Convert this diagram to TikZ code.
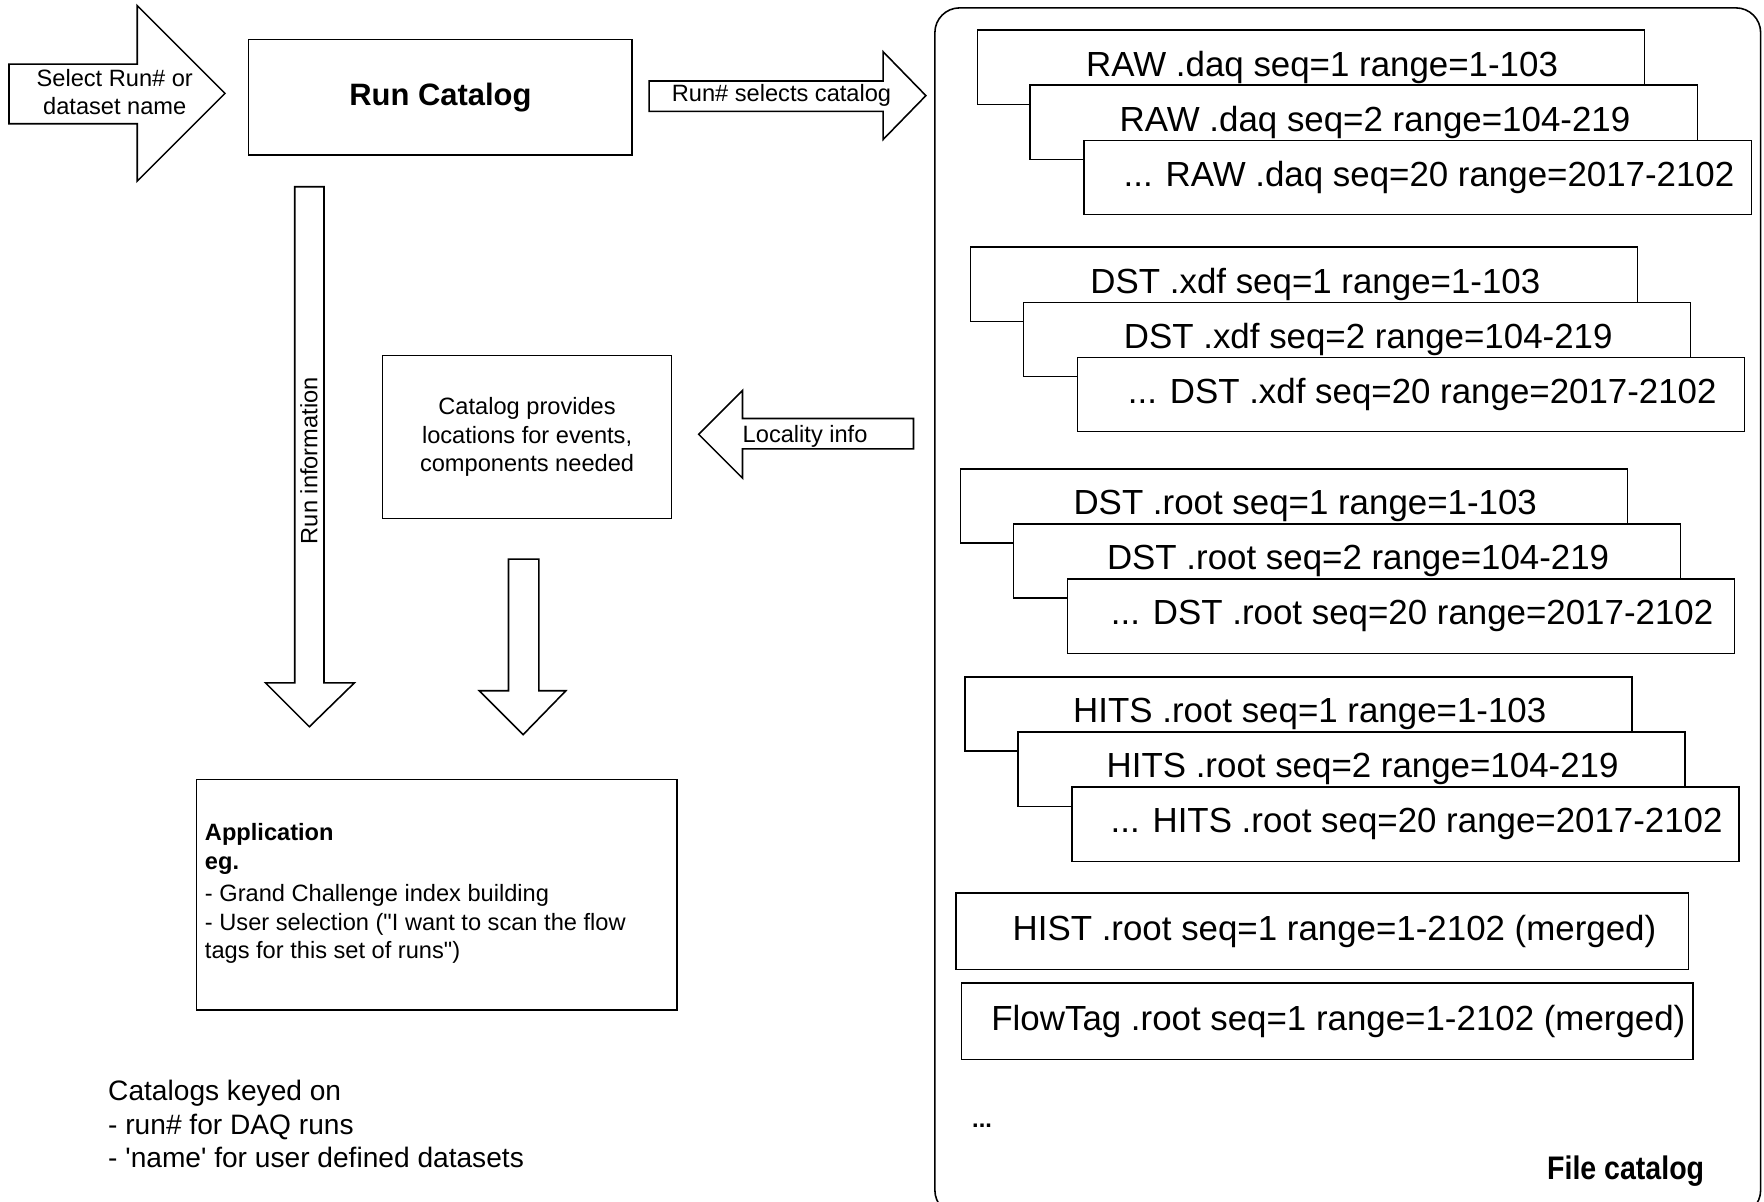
\documentclass[tikz,border=0pt]{standalone}
\usepackage{fontspec}
\setmainfont{Liberation Sans}[Ligatures=TeXOff]
\usepackage{graphicx}
\newcommand\sh{\hspace*{20pt}}
\newcommand\filestack[6]{%
  \node[fbox] (#1a) at (#2,#3) {\sh #4};
  \node[fbox] (#1b) at ({#2+47},{#3+49}) {\sh #5};
  \node[fbox] (#1c) at ({#2+95},{#3+98}) {\sh #6};
}
\begin{document}
\begin{tikzpicture}[x=1pt,y=-1pt,
  shp/.style={draw=black, line width=1.4pt, fill=white, line join=miter},
  fbox/.style={shp, rectangle, anchor=north west, minimum width=593pt, minimum height=66pt, inner sep=0pt, font=\fontsize{31}{37}\selectfont},
  mbox/.style={shp, rectangle, anchor=north west, minimum height=68pt, inner sep=0pt, font=\fontsize{31}{37}\selectfont},
  small/.style={font=\fontsize{21}{25.5}\selectfont, inner sep=0pt},
  note/.style={font=\fontsize{25}{30}\selectfont, inner sep=0pt, anchor=base west}]
\clip (0,0) rectangle (1568,1068);
\useasboundingbox (0,0) rectangle (1568,1068);
\fill[white] (0,0) rectangle (1568,1068);

% left input arrow
\draw[shp] (8,57) -- (122,57) -- (122,5) -- (200,83) -- (122,161) -- (122,110) -- (8,110) -- cycle;
\node[small, anchor=base] (sel1) at (102,77) {Select Run\# or};
\node[small, anchor=base] (sel2) at (102,102) {dataset name};

% run catalog
\node[shp, rectangle, minimum width=341pt, minimum height=103pt, inner sep=0pt,
      font=\fontsize{27.5}{33}\selectfont\bfseries] (runcat) at (391.5,86.5) {Run Catalog};

% arrow to file catalog
\draw[shp] (577,72) -- (785,72) -- (785,46) -- (823,85) -- (785,124) -- (785,99) -- (577,99) -- cycle;
\node[small, anchor=base west] (runsel) at (597,90) {Run\# selects catalog};

% file catalog frame
\draw[shp, rounded corners=22pt] (831,7) rectangle (1565,1080);

\filestack{raw}{868}{26}{RAW .daq seq=1 range=1-103}{RAW .daq seq=2 range=104-219}{... RAW .daq seq=20 range=2017-2102}
\filestack{xdf}{862}{219}{DST .xdf seq=1 range=1-103}{DST .xdf seq=2 range=104-219}{... DST .xdf seq=20 range=2017-2102}
\filestack{droot}{853}{416}{DST .root seq=1 range=1-103}{DST .root seq=2 range=104-219}{... DST .root seq=20 range=2017-2102}
\filestack{hits}{857}{601}{HITS .root seq=1 range=1-103}{HITS .root seq=2 range=104-219}{... HITS .root seq=20 range=2017-2102}

\node[mbox, minimum width=651pt] (hist) at (849,793) {\hspace*{22pt}HIST .root seq=1 range=1-2102 (merged)};
\node[mbox, minimum width=650pt] (flow) at (854,873) {\hspace*{20pt}FlowTag .root seq=1 range=1-2102 (merged)};

\node[inner sep=0pt, anchor=base west, font=\fontsize{21}{25}\selectfont\bfseries] (dots) at (864,1002) {...};
\node[inner sep=0pt, anchor=base west, font=\fontsize{29}{34}\selectfont\bfseries] (filecat) at (1375,1048) {\scalebox{0.875}[1]{File catalog}};

% run information arrow
\draw[shp] (262,166) -- (288,166) -- (288,607) -- (315,607) -- (275,646) -- (236,607) -- (262,607) -- cycle;
\node[small, anchor=base, rotate=90] (runinfo) at (282,409.5) {Run information};

% catalog provides box
\node[shp, rectangle, minimum width=257pt, minimum height=145pt, inner sep=0pt, align=center,
      font=\fontsize{21}{25.5}\selectfont] (provides) at (468.5,388.5)
      {Catalog provides\\locations for events,\\components needed};

% locality arrow
\draw[shp] (812,372) -- (660,372) -- (660,347) -- (621,386) -- (660,425) -- (660,399) -- (812,399) -- cycle;
\node[small, anchor=base west] (locality) at (660,393) {Locality info};

% down arrow
\draw[shp] (452,497) -- (479,497) -- (479,614) -- (503,614) -- (465,653) -- (426,614) -- (452,614) -- cycle;

% application box
\node[shp, rectangle, anchor=north west, minimum width=427pt, minimum height=205pt, inner sep=0pt] (app) at (174,692) {};
\node[small, anchor=base west, font=\fontsize{21}{25.5}\selectfont\bfseries] (app1) at (182,747) {Application};
\node[small, anchor=base west, font=\fontsize{21}{25.5}\selectfont\bfseries] (app2) at (182,773) {eg.};
\node[small, anchor=base west] (app3) at (182,801) {- Grand Challenge index building};
\node[small, anchor=base west] (app4) at (182,827) {- User selection ("I want to scan the flow};
\node[small, anchor=base west] (app5) at (182,852) {tags for this set of runs")};

% notes
\node[note] (key1) at (96,978) {Catalogs keyed on};
\node[note] (key2) at (96,1008) {- run\# for DAQ runs};
\node[note] (key3) at (96,1038) {- 'name' for user defined datasets};
\end{tikzpicture}
\end{document}
